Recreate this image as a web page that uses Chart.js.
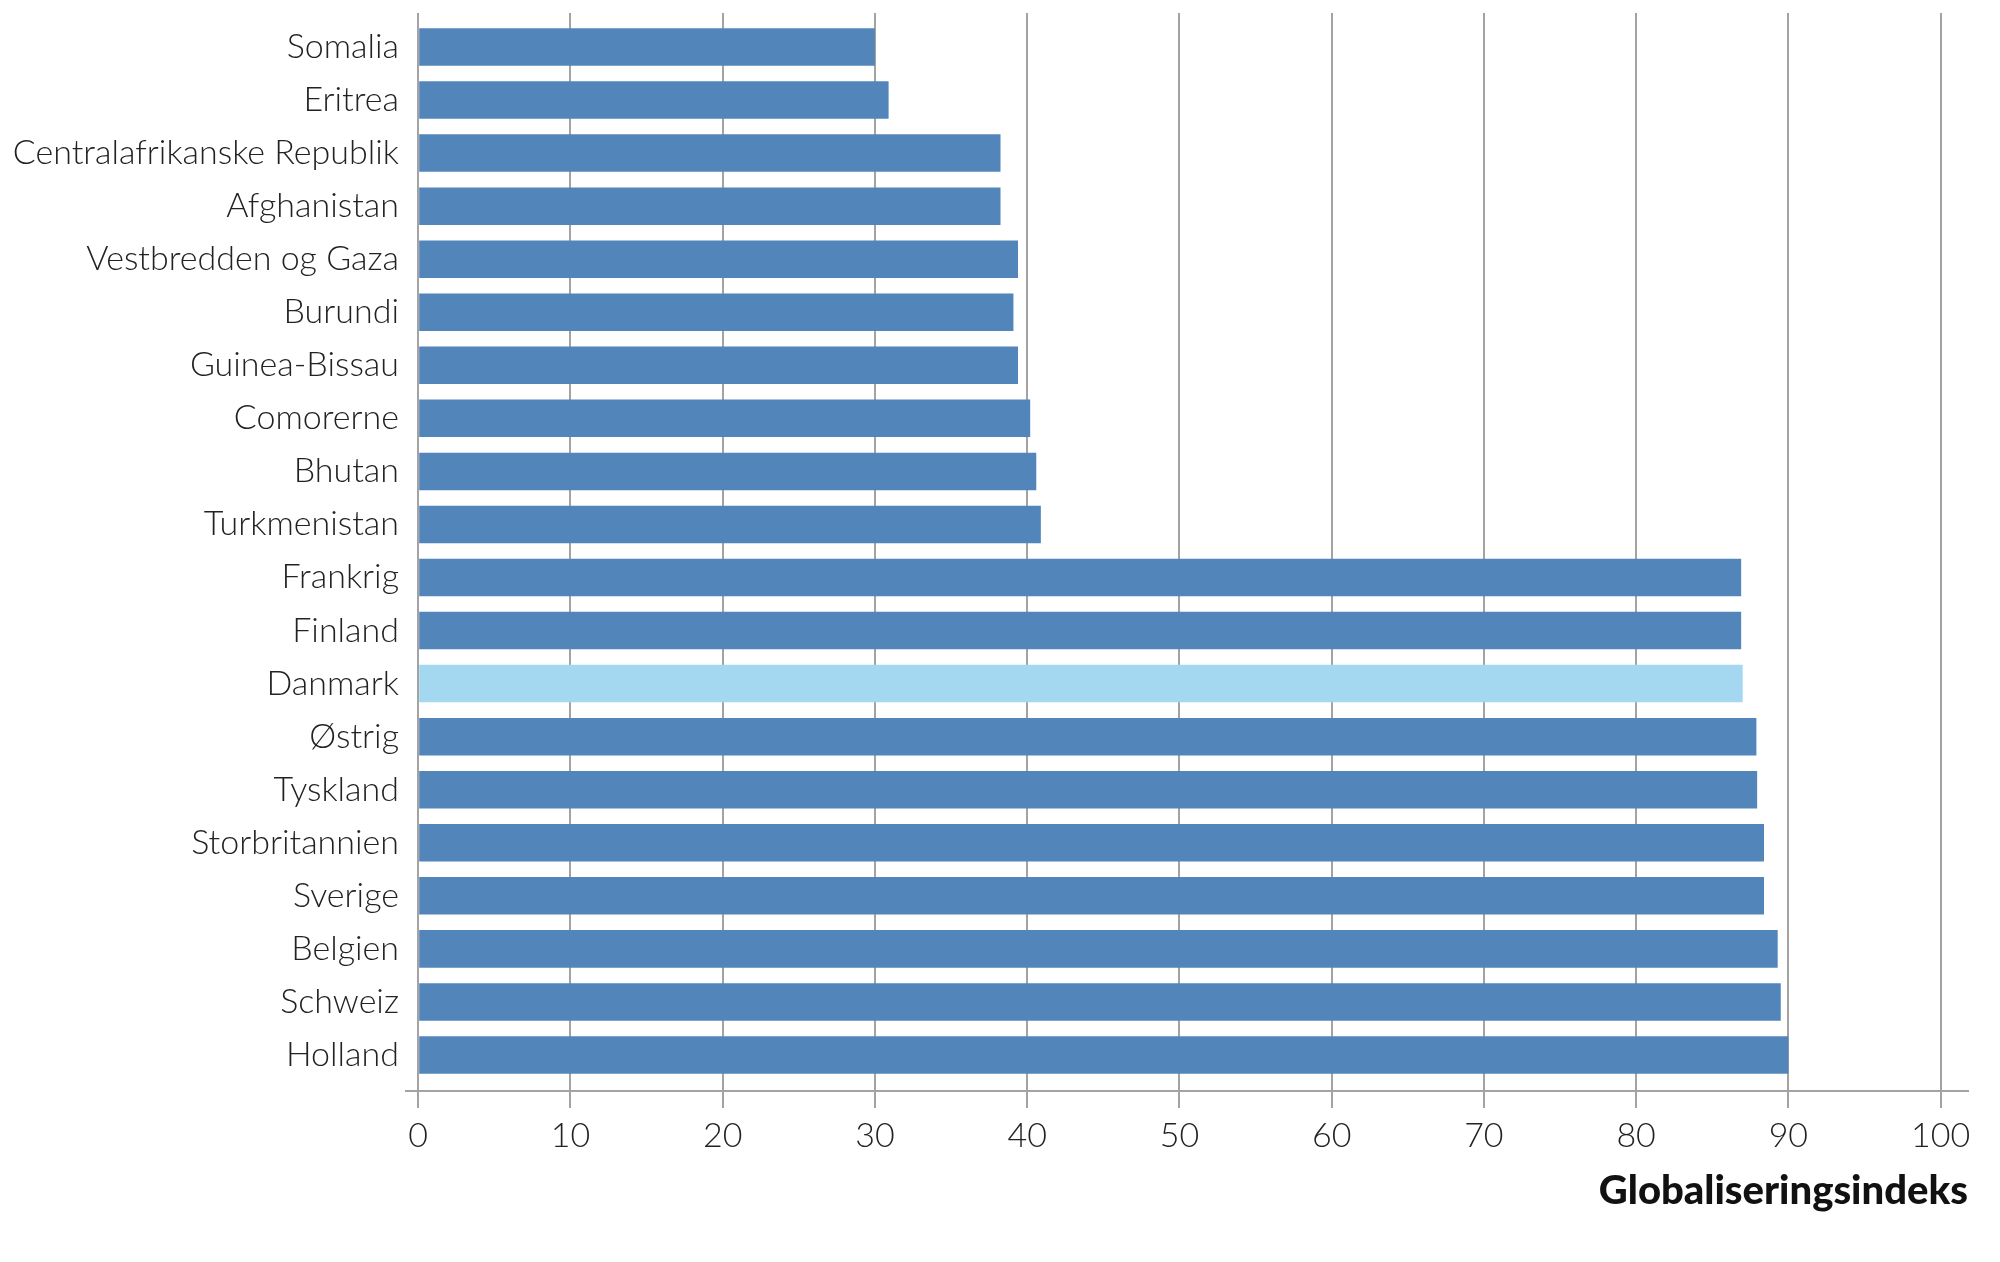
<!DOCTYPE html>
<html>
<head>
  <meta charset="UTF-8">
  <title>Globaliseringsindeks</title>
  <script src="https://cdn.jsdelivr.net/npm/chart.js@4"></script>
  <style>
    body { margin: 0; background: #fff; }
    .wrap { width: 2000px; height: 1262px; position: relative; }
  </style>
</head>
<body>
  <div class="wrap"><canvas id="chart"></canvas></div>

  <script>
    // lande, fra toppen og ned
    const countries = [
      'Somalia', 'Eritrea', 'Centralafrikanske Republik', 'Afghanistan',
      'Vestbredden og Gaza', 'Burundi', 'Guinea-Bissau', 'Comorerne',
      'Bhutan', 'Turkmenistan', 'Frankrig', 'Finland', 'Danmark',
      'Østrig', 'Tyskland', 'Storbritannien', 'Sverige', 'Belgien',
      'Schweiz', 'Holland'
    ];
    const indexValues = [
      30.0, 30.9, 38.25, 38.25, 39.4, 39.1, 39.4, 40.2, 40.6, 40.9,
      86.9, 86.9, 87.0, 87.9, 87.95, 88.4, 88.4, 89.3, 89.5, 90.0
    ];
    const xTicks = [0, 10, 20, 30, 40, 50, 60, 70, 80, 90, 100];
    const highlight = 'Danmark';

    const DARK = '#5286bb';
    const LIGHT = '#a3d8f0';
    const GRID = '#a3a3a3';
    const FONT = 'Lato';

    const barColors = countries.map(c => c === highlight ? LIGHT : DARK);

    new Chart(document.getElementById('chart'), {
      type: 'bar',
      data: {
        datasets: [{
          data: indexValues.map((v, i) => ({ x: v, y: i })),
          backgroundColor: barColors,
          borderWidth: 0,
          barPercentage: 0.707,
          categoryPercentage: 1
        }]
      },
      options: {
        indexAxis: 'y',
        responsive: true,
        maintainAspectRatio: false,
        devicePixelRatio: 1,
        animation: false,
        layout: { padding: { top: 13, right: 32, left: 0, bottom: 0 } },
        plugins: {
          legend: { display: false },
          tooltip: { enabled: false }
        },
        scales: {
          x: {
            type: 'linear',
            offset: false,
            min: -0.8,
            max: 101.8,
            afterBuildTicks: s => { s.ticks = xTicks.map(v => ({ value: v })); },
            afterFit: s => { s.height = 171; },
            grid: { color: GRID, lineWidth: 2, tickLength: 17, drawTicks: true },
            border: { display: true, color: GRID, width: 2 },
            ticks: {
              font: { family: FONT, size: 34, weight: '300' },
              color: '#222',
              padding: 8,
              maxRotation: 0
            },
            title: {
              display: true,
              text: 'Globaliseringsindeks',
              align: 'end',
              color: '#111',
              font: { family: FONT, size: 40, weight: '900' },
              padding: { top: 0, bottom: 47 }
            }
          },
          y: {
            type: 'linear',
            offset: false,
            reverse: true,
            min: -0.641,
            max: 19.679,
            afterBuildTicks: s => { s.ticks = countries.map((c, i) => ({ value: i })); },
            afterFit: s => {
              s.width = 406;
              // ingen ekstra plads over/under til labels
              s.paddingTop = 0;
              s.paddingBottom = 0;
            },
            grid: { display: false, drawTicks: false },
            border: { display: false },
            ticks: {
              font: { family: FONT, size: 34, weight: '300' },
              color: '#222',
              padding: 7,
              callback: v => countries[v]
            }
          }
        }
      }
    });
  </script>
</body>
</html>
